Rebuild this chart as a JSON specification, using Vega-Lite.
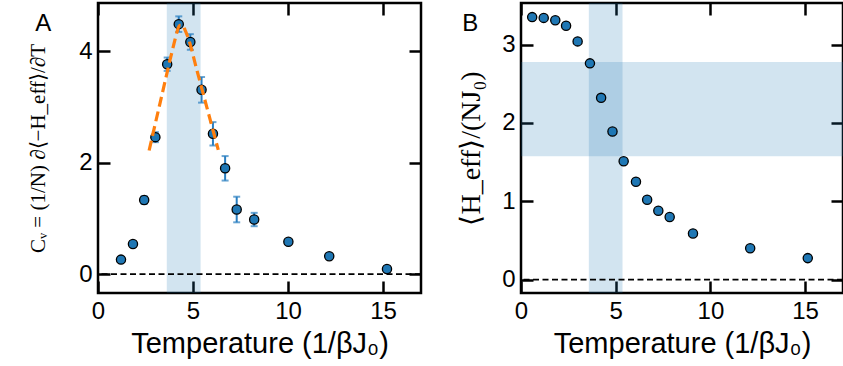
{
  "$schema": "https://vega.github.io/schema/vega-lite/v6.json",
  "background": "white",
  "padding": {"left": 26, "top": 0, "right": 0, "bottom": 0},
  "bounds": "flush",
  "spacing": 100,
  "config": {
    "view": {"stroke": "black", "strokeWidth": 2.5},
    "axis": {
      "domain": false, "grid": false,
      "tickColor": "black", "tickWidth": 2.5, "tickSize": -12,
      "labelFont": "Liberation Sans", "labelFontSize": 24, "labelColor": "black",
      "labelPadding": 18, "labelFlush": false,
      "titleFont": "Liberation Sans", "titleFontSize": 29, "titleFontWeight": "normal", "titleColor": "black"
    }
  },
  "hconcat": [
    {
      "width": 323, "height": 290,
      "resolve": {"axis": {"x": "independent", "y": "independent"}},
      "data": {"values": [
        {"T": 1.21, "Cv": 0.26, "lo": 0.25, "hi": 0.27},
        {"T": 1.84, "Cv": 0.54, "lo": 0.53, "hi": 0.55},
        {"T": 2.43, "Cv": 1.33, "lo": 1.26, "hi": 1.40},
        {"T": 3.02, "Cv": 2.46, "lo": 2.37, "hi": 2.55},
        {"T": 3.64, "Cv": 3.77, "lo": 3.65, "hi": 3.89},
        {"T": 4.25, "Cv": 4.49, "lo": 4.35, "hi": 4.63},
        {"T": 4.86, "Cv": 4.17, "lo": 4.03, "hi": 4.31},
        {"T": 5.45, "Cv": 3.31, "lo": 3.08, "hi": 3.54},
        {"T": 6.05, "Cv": 2.52, "lo": 2.31, "hi": 2.73},
        {"T": 6.69, "Cv": 1.90, "lo": 1.68, "hi": 2.12},
        {"T": 7.30, "Cv": 1.16, "lo": 0.93, "hi": 1.39},
        {"T": 8.22, "Cv": 0.98, "lo": 0.86, "hi": 1.10},
        {"T": 10.02, "Cv": 0.58, "lo": 0.57, "hi": 0.59},
        {"T": 12.17, "Cv": 0.32, "lo": 0.31, "hi": 0.33},
        {"T": 15.21, "Cv": 0.09, "lo": 0.08, "hi": 0.10}
      ]},
      "layer": [
        {
          "data": {"values": [{"start": 3.62, "end": 5.4}]},
          "mark": {"type": "rect", "color": "#1f77b4", "opacity": 0.2},
          "encoding": {
            "x": {"field": "start", "type": "quantitative", "scale": {"domain": [0, 17], "nice": false, "zero": false}, "axis": null},
            "x2": {"field": "end"}
          }
        },
        {
          "data": {"values": [{"level": 0}]},
          "mark": {"type": "rule", "color": "black", "strokeWidth": 1.8, "strokeDash": [6, 3.5]},
          "encoding": {
            "y": {"field": "level", "type": "quantitative", "scale": {"domain": [-0.34, 4.87], "nice": false, "zero": false}, "axis": null}
          }
        },
        {
          "mark": {"type": "errorbar", "ticks": true, "size": 7, "thickness": 2, "color": "#2a7fc1"},
          "encoding": {
            "x": {"field": "T", "type": "quantitative", "scale": {"domain": [0, 17], "nice": false, "zero": false}, "axis": null},
            "y": {"field": "lo", "type": "quantitative", "scale": {"domain": [-0.34, 4.87], "nice": false, "zero": false}, "axis": null},
            "y2": {"field": "hi"}
          }
        },
        {
          "mark": {"type": "circle", "size": 85, "fill": "#1f77b4", "stroke": "black", "strokeWidth": 1.3, "opacity": 1},
          "encoding": {
            "x": {"field": "T", "type": "quantitative", "scale": {"domain": [0, 17], "nice": false, "zero": false},
                  "axis": {"orient": "bottom", "values": [0, 5, 10, 15], "title": "Temperature (1/βJ₀)", "titlePadding": 6}},
            "y": {"field": "Cv", "type": "quantitative", "scale": {"domain": [-0.34, 4.87], "nice": false, "zero": false},
                  "axis": {"orient": "left", "values": [0, 2, 4], "title": "Cᵥ = (1/N) ∂⟨−H_eff⟩/∂T", "titleFont": "Liberation Serif", "titleFontSize": 21, "titlePadding": 30}}
          }
        },
        {
          "mark": {"type": "point", "opacity": 0},
          "encoding": {
            "x": {"field": "T", "type": "quantitative", "scale": {"domain": [0, 17], "nice": false, "zero": false},
                  "axis": {"orient": "top", "values": [0, 5, 10, 15], "labels": false, "title": null}},
            "y": {"field": "Cv", "type": "quantitative", "scale": {"domain": [-0.34, 4.87], "nice": false, "zero": false},
                  "axis": {"orient": "right", "values": [0, 2, 4], "labels": false, "title": null}}
          }
        },
        {
          "data": {"values": [
            {"T": 2.69, "fit": 2.22}, {"T": 3.0, "fit": 2.68}, {"T": 3.4, "fit": 3.27}, {"T": 3.8, "fit": 3.86},
            {"T": 4.0, "fit": 4.14}, {"T": 4.15, "fit": 4.34}, {"T": 4.3, "fit": 4.47}, {"T": 4.45, "fit": 4.47},
            {"T": 4.6, "fit": 4.37}, {"T": 4.75, "fit": 4.24}, {"T": 5.2, "fit": 3.67}, {"T": 5.6, "fit": 3.16},
            {"T": 6.0, "fit": 2.65}, {"T": 6.33, "fit": 2.23}
          ]},
          "mark": {"type": "line", "color": "#ff7f0e", "strokeWidth": 3.2, "strokeDash": [10, 5], "interpolate": "monotone"},
          "encoding": {
            "x": {"field": "T", "type": "quantitative", "scale": {"domain": [0, 17], "nice": false, "zero": false}, "axis": null},
            "y": {"field": "fit", "type": "quantitative", "scale": {"domain": [-0.34, 4.87], "nice": false, "zero": false}, "axis": null}
          }
        },
        {
          "data": {"values": [{"panel": "A"}]},
          "mark": {"type": "text", "font": "Liberation Sans", "fontSize": 24, "align": "left", "baseline": "alphabetic", "color": "black"},
          "encoding": {
            "x": {"datum": -3.3, "type": "quantitative", "scale": {"domain": [0, 17], "nice": false, "zero": false}, "axis": null},
            "y": {"datum": 4.37, "type": "quantitative", "scale": {"domain": [-0.34, 4.87], "nice": false, "zero": false}, "axis": null},
            "text": {"field": "panel"}
          }
        }
      ]
    },
    {
      "width": 322, "height": 290,
      "resolve": {"axis": {"x": "independent", "y": "independent"}},
      "data": {"values": [
        {"T": 0.59, "H": 3.35}, {"T": 1.20, "H": 3.34}, {"T": 1.81, "H": 3.31}, {"T": 2.38, "H": 3.24},
        {"T": 2.99, "H": 3.04}, {"T": 3.64, "H": 2.76}, {"T": 4.23, "H": 2.32}, {"T": 4.83, "H": 1.89},
        {"T": 5.42, "H": 1.51}, {"T": 6.07, "H": 1.25}, {"T": 6.66, "H": 1.02}, {"T": 7.25, "H": 0.88},
        {"T": 7.85, "H": 0.80}, {"T": 9.08, "H": 0.59}, {"T": 12.10, "H": 0.40}, {"T": 15.14, "H": 0.275}
      ]},
      "layer": [
        {
          "data": {"values": [{"start": 3.58, "end": 5.36}]},
          "mark": {"type": "rect", "color": "#1f77b4", "opacity": 0.2},
          "encoding": {
            "x": {"field": "start", "type": "quantitative", "scale": {"domain": [0, 17], "nice": false, "zero": false}, "axis": null},
            "x2": {"field": "end"}
          }
        },
        {
          "data": {"values": [{"start": 1.575, "end": 2.776}]},
          "mark": {"type": "rect", "color": "#1f77b4", "opacity": 0.2},
          "encoding": {
            "y": {"field": "start", "type": "quantitative", "scale": {"domain": [-0.17, 3.53], "nice": false, "zero": false}, "axis": null},
            "y2": {"field": "end"}
          }
        },
        {
          "data": {"values": [{"level": 0}]},
          "mark": {"type": "rule", "color": "black", "strokeWidth": 1.8, "strokeDash": [6, 3.5]},
          "encoding": {
            "y": {"field": "level", "type": "quantitative", "scale": {"domain": [-0.17, 3.53], "nice": false, "zero": false}, "axis": null}
          }
        },
        {
          "mark": {"type": "circle", "size": 85, "fill": "#1f77b4", "stroke": "black", "strokeWidth": 1.3, "opacity": 1},
          "encoding": {
            "x": {"field": "T", "type": "quantitative", "scale": {"domain": [0, 17], "nice": false, "zero": false},
                  "axis": {"orient": "bottom", "values": [0, 5, 10, 15], "title": "Temperature (1/βJ₀)", "titlePadding": 6}},
            "y": {"field": "H", "type": "quantitative", "scale": {"domain": [-0.17, 3.53], "nice": false, "zero": false},
                  "axis": {"orient": "left", "values": [0, 1, 2, 3], "title": "⟨H_eff⟩/(NJ₀)", "titleFont": "Liberation Serif", "titleFontSize": 28, "titlePadding": 16}}
          }
        },
        {
          "mark": {"type": "point", "opacity": 0},
          "encoding": {
            "x": {"field": "T", "type": "quantitative", "scale": {"domain": [0, 17], "nice": false, "zero": false},
                  "axis": {"orient": "top", "values": [0, 5, 10, 15], "labels": false, "title": null}},
            "y": {"field": "H", "type": "quantitative", "scale": {"domain": [-0.17, 3.53], "nice": false, "zero": false},
                  "axis": {"orient": "right", "values": [0, 1, 2, 3], "labels": false, "title": null}}
          }
        },
        {
          "data": {"values": [{"panel": "B"}]},
          "mark": {"type": "text", "font": "Liberation Sans", "fontSize": 24, "align": "left", "baseline": "alphabetic", "color": "black"},
          "encoding": {
            "x": {"datum": -3.1, "type": "quantitative", "scale": {"domain": [0, 17], "nice": false, "zero": false}, "axis": null},
            "y": {"datum": 3.17, "type": "quantitative", "scale": {"domain": [-0.17, 3.53], "nice": false, "zero": false}, "axis": null},
            "text": {"field": "panel"}
          }
        }
      ]
    }
  ]
}
